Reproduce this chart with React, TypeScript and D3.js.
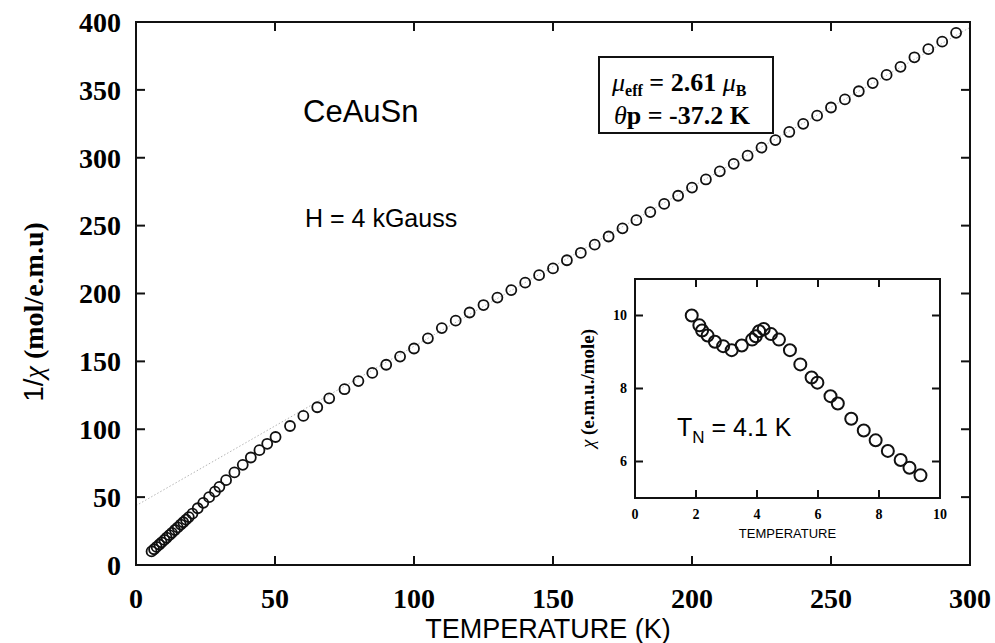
import { useEffect, useRef } from 'react'
import * as d3 from 'd3'

// main plot: 1/chi vs T
const mainT = [
  5.6, 6.5, 7.4, 8.4, 9.2, 10.2, 11.0, 12.0, 12.9, 14.0, 15.0, 16.1, 17.0, 18.0, 19.0, 20.3,
  22.2, 24.2, 26.3, 28.4, 30.0, 32.4, 35.4, 38.4, 41.3, 44.4, 47.2, 50.2, 55.4, 60.2, 65.2, 69.5,
  75, 80, 85, 90, 95, 100, 105, 110, 115, 120, 125, 130, 135, 140, 145, 150, 155, 160, 165, 170,
  175, 180, 185, 190, 195, 200, 205, 210, 215, 220, 225, 230, 235, 240, 245, 250, 255, 260, 265,
  270, 275, 280, 285, 290, 295,
]
const mainInvChi = [
  10, 11.6, 13.3, 15.1, 16.7, 18.5, 20.1, 22, 23.7, 25.8, 27.7, 29.8, 31.5, 33.4, 35.3, 37.8,
  41.8, 45.8, 50, 54, 57.6, 62.5, 68.2, 73.8, 79.2, 84.6, 89.3, 94.3, 102.4, 109.8, 116.2, 122.8,
  129.5, 135.5, 141.5, 147.5, 153.5, 159.5, 167, 174.5, 180, 186, 191.5, 197, 202.5, 208, 213.5,
  218.5, 224.5, 230, 236, 242, 248, 254, 260, 266, 272, 278, 284, 290, 295.5, 301.5, 307.5, 313,
  319, 325, 331, 337, 343, 349, 355, 361, 367, 374, 380, 385.5, 392,
]
// Curie-Weiss fit line (end points)
const fitT = [0, 300]
const fitInvChi = [43.7, 396]

const mainXTicks = [0, 50, 100, 150, 200, 250, 300]
const mainYTicks = [0, 50, 100, 150, 200, 250, 300, 350, 400]

// inset: chi vs T at low temperature
const insetT = [
  1.86, 2.11, 2.2, 2.38, 2.62, 2.89, 3.17, 3.5, 3.84, 3.96, 4.07, 4.22, 4.46, 4.72, 5.08, 5.42,
  5.79, 5.98, 6.41, 6.65, 7.09, 7.5, 7.89, 8.29, 8.71, 9.0, 9.36,
]
const insetChi = [
  10.0, 9.73, 9.59, 9.45, 9.28, 9.16, 9.05, 9.18, 9.34, 9.43, 9.57, 9.63, 9.49, 9.34, 9.05, 8.66,
  8.3, 8.16, 7.79, 7.59, 7.17, 6.85, 6.58, 6.29, 6.04, 5.83, 5.62,
]
const insetXTicks = [0, 2, 4, 6, 8, 10]
const insetYTicks = [6, 8, 10]

const SERIF = '"Liberation Serif", "Times New Roman", serif'
const SANS = '"Liberation Sans", Arial, sans-serif'

export default function App() {
  const svgRef = useRef<SVGSVGElement>(null)

  useEffect(() => {
    if (!svgRef.current) return
    const root = d3.select(svgRef.current)
    root.selectAll('*').remove()

    // ---- main frame
    const m = { left: 136, right: 970, top: 22, bottom: 565 }
    const x = d3.scaleLinear().domain([0, 300]).range([m.left, m.right])
    const y = d3.scaleLinear().domain([0, 400]).range([m.bottom, m.top])

    const g = root.append('g')

    // fit line (dotted, light)
    g.append('line')
      .attr('x1', x(fitT[0]))
      .attr('y1', y(fitInvChi[0]))
      .attr('x2', x(fitT[1]))
      .attr('y2', y(fitInvChi[1]))
      .attr('stroke', '#b5b5b5')
      .attr('stroke-width', 1)
      .attr('stroke-dasharray', '1.5,2')

    g.append('rect')
      .attr('x', m.left)
      .attr('y', m.top)
      .attr('width', m.right - m.left)
      .attr('height', m.bottom - m.top)
      .attr('fill', 'none')
      .attr('stroke', '#111')
      .attr('stroke-width', 2)

    const tl = 9
    mainXTicks.slice(1, -1).forEach(t => {
      g.append('line').attr('x1', x(t)).attr('x2', x(t)).attr('y1', m.bottom).attr('y2', m.bottom - tl)
        .attr('stroke', '#111').attr('stroke-width', 2)
      g.append('line').attr('x1', x(t)).attr('x2', x(t)).attr('y1', m.top).attr('y2', m.top + tl)
        .attr('stroke', '#111').attr('stroke-width', 2)
    })
    mainYTicks.slice(1, -1).forEach(t => {
      g.append('line').attr('x1', m.left).attr('x2', m.left + tl).attr('y1', y(t)).attr('y2', y(t))
        .attr('stroke', '#111').attr('stroke-width', 2)
      g.append('line').attr('x1', m.right).attr('x2', m.right - tl).attr('y1', y(t)).attr('y2', y(t))
        .attr('stroke', '#111').attr('stroke-width', 2)
    })

    g.selectAll('text.xt')
      .data(mainXTicks)
      .enter()
      .append('text')
      .attr('x', d => x(d))
      .attr('y', 608)
      .attr('text-anchor', 'middle')
      .attr('font-family', SERIF)
      .attr('font-weight', 'bold')
      .attr('font-size', 28)
      .text(d => d)

    g.selectAll('text.yt')
      .data(mainYTicks)
      .enter()
      .append('text')
      .attr('x', 121)
      .attr('y', d => y(d))
      .attr('dy', '0.35em')
      .attr('text-anchor', 'end')
      .attr('font-family', SERIF)
      .attr('font-weight', 'bold')
      .attr('font-size', 28)
      .text(d => d)

    g.append('text')
      .attr('x', 548)
      .attr('y', 638)
      .attr('text-anchor', 'middle')
      .attr('font-family', SANS)
      .attr('font-size', 27)
      .text('TEMPERATURE (K)')

    const yl = g.append('text')
      .attr('transform', `translate(43,312) rotate(-90)`)
      .attr('text-anchor', 'middle')
      .attr('font-size', 28)
    yl.append('tspan').attr('font-family', SANS).text('1/')
    yl.append('tspan').attr('font-family', SERIF).attr('font-style', 'italic').text('χ')
    yl.append('tspan').attr('font-family', SERIF).attr('font-weight', 'bold').text(' (mol/e.m.u)')

    // data points
    g.selectAll('circle.main')
      .data(mainT.map((t, i) => [t, mainInvChi[i]]))
      .enter()
      .append('circle')
      .attr('cx', d => x(d[0]))
      .attr('cy', d => y(d[1]))
      .attr('r', 5)
      .attr('fill', 'none')
      .attr('stroke', '#111')
      .attr('stroke-width', 1.8)

    // annotations
    g.append('text')
      .attr('x', 303)
      .attr('y', 122)
      .attr('font-family', SANS)
      .attr('font-size', 31)
      .text('CeAuSn')
    g.append('text')
      .attr('x', 305)
      .attr('y', 227)
      .attr('font-family', SANS)
      .attr('font-size', 25)
      .text('H = 4 kGauss')

    // parameter box
    g.append('rect')
      .attr('x', 599)
      .attr('y', 57)
      .attr('width', 174)
      .attr('height', 76)
      .attr('fill', '#fff')
      .attr('stroke', '#111')
      .attr('stroke-width', 2)
    const l1 = g.append('text').attr('x', 612).attr('y', 91).attr('font-family', SERIF)
      .attr('font-weight', 'bold').attr('font-size', 26)
    l1.append('tspan').attr('font-style', 'italic').attr('font-weight', 'normal').text('μ')
    l1.append('tspan').attr('font-size', 16).attr('dy', 5).text('eff')
    l1.append('tspan').attr('dy', -5).text(' = 2.61 ')
    l1.append('tspan').attr('font-style', 'italic').attr('font-weight', 'normal').text('μ')
    l1.append('tspan').attr('font-size', 16).attr('dy', 5).text('B')
    const l2 = g.append('text').attr('x', 614).attr('y', 124).attr('font-family', SERIF)
      .attr('font-weight', 'bold').attr('font-size', 26)
    l2.append('tspan').attr('font-style', 'italic').attr('font-weight', 'normal').text('θ')
    l2.append('tspan').text('p = -37.2 K')

    // ---- inset
    const n = { left: 635, right: 940, top: 279, bottom: 498 }
    const ix = d3.scaleLinear().domain([0, 10]).range([n.left, n.right])
    const iy = d3.scaleLinear().domain([5, 11]).range([n.bottom, n.top])
    const ig = root.append('g')

    ig.append('rect')
      .attr('x', n.left)
      .attr('y', n.top)
      .attr('width', n.right - n.left)
      .attr('height', n.bottom - n.top)
      .attr('fill', '#fff')
      .attr('stroke', '#111')
      .attr('stroke-width', 2)

    const itl = 8
    insetXTicks.slice(1, -1).forEach(t => {
      ig.append('line').attr('x1', ix(t)).attr('x2', ix(t)).attr('y1', n.bottom).attr('y2', n.bottom - itl)
        .attr('stroke', '#111').attr('stroke-width', 2)
      ig.append('line').attr('x1', ix(t)).attr('x2', ix(t)).attr('y1', n.top).attr('y2', n.top + itl)
        .attr('stroke', '#111').attr('stroke-width', 2)
    })
    insetYTicks.forEach(t => {
      ig.append('line').attr('x1', n.left).attr('x2', n.left + itl).attr('y1', iy(t)).attr('y2', iy(t))
        .attr('stroke', '#111').attr('stroke-width', 2)
      ig.append('line').attr('x1', n.right).attr('x2', n.right - itl).attr('y1', iy(t)).attr('y2', iy(t))
        .attr('stroke', '#111').attr('stroke-width', 2)
    })

    ig.selectAll('text.ixt')
      .data(insetXTicks)
      .enter()
      .append('text')
      .attr('x', d => ix(d))
      .attr('y', 519)
      .attr('text-anchor', 'middle')
      .attr('font-family', SERIF)
      .attr('font-weight', 'bold')
      .attr('font-size', 14)
      .text(d => d)

    ig.selectAll('text.iyt')
      .data(insetYTicks)
      .enter()
      .append('text')
      .attr('x', 627)
      .attr('y', d => iy(d))
      .attr('dy', '0.35em')
      .attr('text-anchor', 'end')
      .attr('font-family', SERIF)
      .attr('font-weight', 'bold')
      .attr('font-size', 14)
      .text(d => d)

    ig.append('text')
      .attr('x', (n.left + n.right) / 2)
      .attr('y', 538)
      .attr('text-anchor', 'middle')
      .attr('font-family', SANS)
      .attr('font-size', 13)
      .text('TEMPERATURE')

    const iyl = ig.append('text')
      .attr('transform', `translate(594,${(n.top + n.bottom) / 2}) rotate(-90)`)
      .attr('text-anchor', 'middle')
      .attr('font-size', 19)
      .attr('font-family', SERIF)
    iyl.append('tspan').attr('font-style', 'italic').text('χ')
    iyl.append('tspan').attr('font-weight', 'bold').text(' (e.m.u./mole)')

    ig.selectAll('circle.inset')
      .data(insetT.map((t, i) => [t, insetChi[i]]))
      .enter()
      .append('circle')
      .attr('cx', d => ix(d[0]))
      .attr('cy', d => iy(d[1]))
      .attr('r', 6)
      .attr('fill', 'none')
      .attr('stroke', '#111')
      .attr('stroke-width', 2)

    const tn = ig.append('text').attr('x', 677).attr('y', 436).attr('font-family', SANS).attr('font-size', 25)
    tn.append('tspan').text('T')
    tn.append('tspan').attr('font-size', 17).attr('dy', 7).text('N')
    tn.append('tspan').attr('dy', -7).text(' = 4.1 K')
  }, [])

  return (
    <svg
      ref={svgRef}
      width={995}
      height={643}
      style={{ position: 'absolute', left: 0, top: 0, background: '#fff' }}
    />
  )
}
